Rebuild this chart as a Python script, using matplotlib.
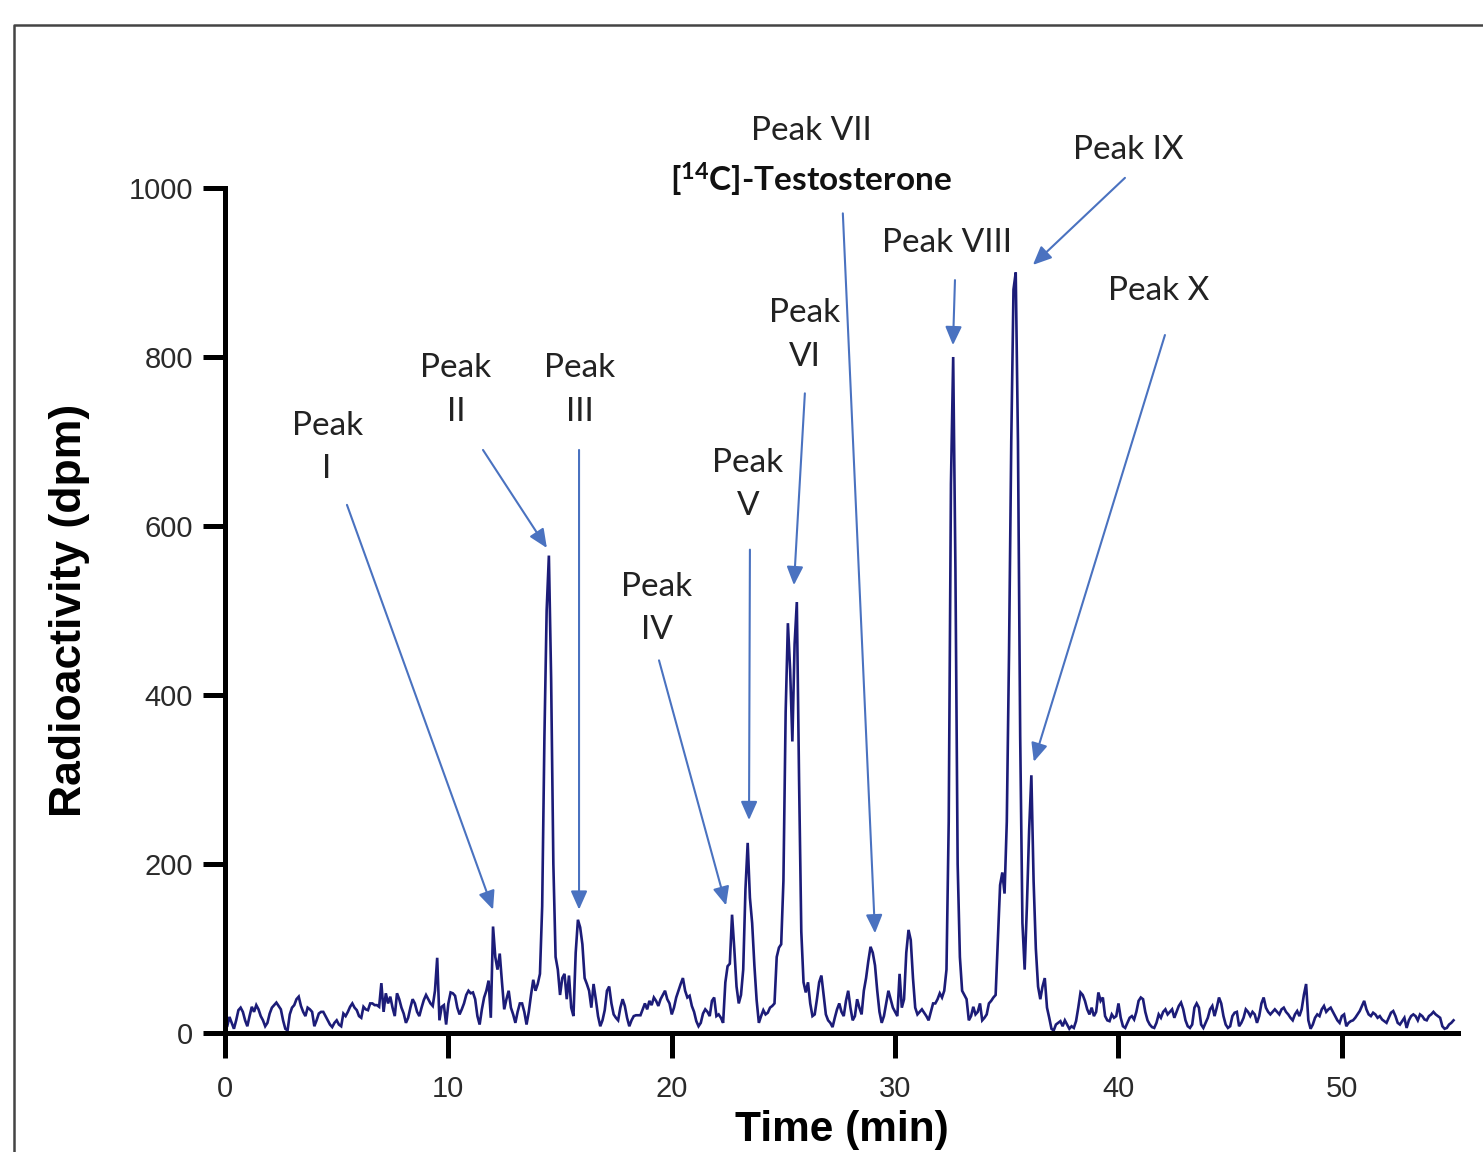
import matplotlib
matplotlib.use('Agg')
import matplotlib.pyplot as plt
from matplotlib.lines import Line2D
import numpy as np

# radioactivity trace (dpm), one row per minute, sampled every 0.1 min from 0 to 55 min
radioactivity = [
    5, 8, 19, 12, 5, 15, 27, 30, 25, 15,            # 0
    8, 20, 31, 25, 33, 28, 20, 15, 8, 12,           # 1
    23, 30, 33, 36, 32, 28, 15, 5, 3, 22,           # 2
    30, 33, 40, 43, 32, 25, 20, 30, 28, 25,         # 3
    8, 15, 23, 25, 25, 20, 15, 10, 7, 12,           # 4
    15, 10, 8, 23, 20, 25, 31, 35, 30, 27,          # 5
    20, 18, 31, 28, 27, 35, 35, 33, 33, 31,         # 6
    59, 25, 47, 35, 43, 30, 20, 47, 40, 30,         # 7
    23, 12, 18, 30, 40, 35, 25, 20, 30, 39,         # 8
    45, 40, 35, 32, 50, 89, 15, 31, 33, 10,         # 9
    35, 48, 47, 44, 30, 22, 28, 35, 45, 50,         # 10
    47, 48, 40, 20, 10, 28, 42, 50, 62, 18,         # 11
    126, 90, 75, 94, 60, 28, 40, 50, 30, 22,        # 12
    12, 25, 35, 35, 25, 10, 25, 45, 63, 50,         # 13
    58, 70, 150, 350, 500, 565, 420, 200, 90, 75,   # 14
    45, 65, 70, 40, 68, 30, 20, 95, 134, 125,       # 15
    105, 65, 58, 50, 30, 58, 40, 20, 8, 15,         # 16
    27, 50, 55, 35, 22, 18, 15, 30, 40, 32,         # 17
    18, 8, 15, 20, 21, 21, 21, 28, 35, 28,          # 18
    38, 33, 42, 38, 32, 40, 45, 50, 40, 35,         # 19
    22, 30, 42, 50, 58, 65, 50, 42, 44, 32,         # 20
    25, 14, 8, 12, 23, 28, 25, 20, 38, 42,          # 21
    20, 22, 18, 12, 60, 79, 82, 140, 100, 55,       # 22
    35, 45, 75, 170, 225, 160, 130, 80, 39, 12,     # 23
    20, 27, 22, 24, 30, 32, 35, 90, 101, 105,       # 24
    180, 380, 485, 430, 345, 460, 510, 300, 120, 60,  # 25
    48, 60, 35, 20, 22, 40, 60, 68, 45, 22,         # 26
    15, 12, 7, 18, 28, 35, 25, 20, 38, 50,          # 27
    30, 15, 20, 40, 30, 22, 50, 65, 85, 102,        # 28
    95, 80, 50, 25, 12, 20, 35, 50, 40, 30,         # 29
    25, 20, 70, 30, 40, 95, 122, 110, 65, 30,       # 30
    22, 25, 28, 24, 20, 15, 25, 35, 35, 40,         # 31
    47, 42, 50, 75, 250, 650, 800, 550, 200, 90,    # 32
    50, 45, 40, 15, 20, 31, 22, 25, 35, 15,         # 33
    18, 22, 35, 38, 42, 45, 110, 175, 190, 165,     # 34
    250, 450, 700, 880, 900, 700, 350, 130, 75, 150,  # 35
    240, 305, 180, 100, 55, 40, 55, 65, 30, 18,     # 36
    5, 3, 10, 12, 14, 8, 15, 10, 5, 8,              # 37
    6, 14, 30, 48, 45, 38, 28, 22, 30, 20,          # 38
    25, 48, 38, 42, 20, 15, 14, 22, 18, 20,         # 39
    35, 18, 8, 6, 12, 18, 20, 16, 25, 38,           # 40
    42, 40, 25, 15, 10, 7, 6, 12, 22, 18,           # 41
    25, 28, 22, 25, 28, 18, 25, 32, 36, 28,         # 42
    15, 8, 6, 10, 30, 35, 30, 10, 6, 12,            # 43
    18, 28, 32, 20, 30, 42, 35, 20, 10, 6,          # 44
    8, 20, 24, 25, 8, 12, 18, 28, 25, 20,           # 45
    25, 22, 12, 20, 35, 42, 30, 25, 22, 25,         # 46
    28, 25, 22, 28, 30, 25, 22, 18, 15, 22,         # 47
    26, 20, 28, 45, 58, 15, 5, 10, 18, 22,          # 48
    20, 28, 32, 25, 28, 30, 25, 20, 15, 12,         # 49
    20, 22, 8, 12, 14, 15, 18, 22, 26, 32,          # 50
    38, 28, 22, 20, 24, 22, 18, 20, 16, 14,         # 51
    12, 18, 24, 26, 20, 12, 10, 14, 18, 6,          # 52
    15, 20, 22, 20, 15, 22, 20, 16, 15, 20,         # 53
    22, 25, 22, 20, 18, 8, 5, 6, 10, 12,            # 54
    15,                                             # 55
]
time_step = 0.1  # min

# peak labels: text, text position (min, dpm), arrow start, arrow tip
peak_labels = ['Peak\nI', 'Peak\nII', 'Peak\nIII', 'Peak\nIV', 'Peak\nV',
               'Peak\nVI', 'Peak VII', 'Peak VIII', 'Peak IX', 'Peak X']
label_xy = [(4.57, 693), (10.34, 761), (15.89, 761), (19.34, 502), (23.41, 649),
            (25.96, 826), (26.23, 1067), (32.32, 935), (40.42, 1045), (41.81, 878)]
arrow_from = [(5.46, 625), (11.55, 690), (15.85, 690), (19.43, 441), (23.50, 572),
              (25.96, 757), (27.66, 970), (32.68, 891), (40.29, 1012), (42.08, 826)]
arrow_to = [(12.0, 146), (14.41, 574), (15.85, 146), (22.43, 151), (23.46, 252),
            (25.47, 530), (29.10, 118), (32.59, 814), (36.17, 909), (36.21, 321)]

plt.rcParams['mathtext.fontset'] = 'custom'
plt.rcParams['mathtext.rm'] = 'Lato'
plt.rcParams['mathtext.bf'] = 'Lato:bold'

fig = plt.figure(figsize=(14.83, 11.52), dpi=100)
ax = fig.add_axes([225 / 1483, 119 / 1152, 1233 / 1483, 845 / 1152])

t = np.arange(len(radioactivity)) * time_step
ax.plot(t, radioactivity, color='#1c1c78', lw=1.9, solid_joinstyle='miter')

ax.set_xlim(0, 55.2)
ax.set_ylim(0, 1000)
for s in ['top', 'right']:
    ax.spines[s].set_visible(False)
for s in ['left', 'bottom']:
    ax.spines[s].set_linewidth(3.6)
ax.set_xticks([0, 10, 20, 30, 40, 50])
ax.set_yticks([0, 200, 400, 600, 800, 1000])
ax.tick_params(axis='both', width=3.6, colors='black', labelcolor='#2a2a2a',
               labelsize=21)
ax.tick_params(axis='x', length=18, pad=12)
ax.tick_params(axis='y', length=16, pad=7)
for lab in ax.get_xticklabels() + ax.get_yticklabels():
    lab.set_family('Liberation Sans')

ax.set_xlabel('Time (min)', fontsize=30.5, fontweight='bold', family='Liberation Sans',
              labelpad=5)
ax.set_ylabel('Radioactivity (dpm)', fontsize=32, fontweight='bold',
              family='Liberation Sans', labelpad=28)

# peak annotations
for i in range(len(peak_labels)):
    ax.text(label_xy[i][0], label_xy[i][1], peak_labels[i], ha='center', va='center',
            fontsize=24, family='Lato', color='#222222', linespacing=1.55)
    ax.annotate('', xy=arrow_to[i], xytext=arrow_from[i], annotation_clip=False,
                arrowprops=dict(arrowstyle='-|>,head_length=0.45,head_width=0.2',
                                mutation_scale=25, color='#4a72c0', lw=1.5,
                                shrinkA=0, shrinkB=0))
ax.text(26.23, 1009, r'[$\mathbf{^{14}}$C]-Testosterone', ha='center', va='center',
        fontsize=24, family='Lato', fontweight='bold', color='#111111')

# outer frame (only the top and left edges are in the picture)
fig.add_artist(Line2D([14 / 1483, 14 / 1483, 1.01], [-0.01, 1 - 25 / 1152, 1 - 25 / 1152],
                      transform=fig.transFigure, color='#444444', lw=1.8))

fig.savefig('out.png', dpi=100)
